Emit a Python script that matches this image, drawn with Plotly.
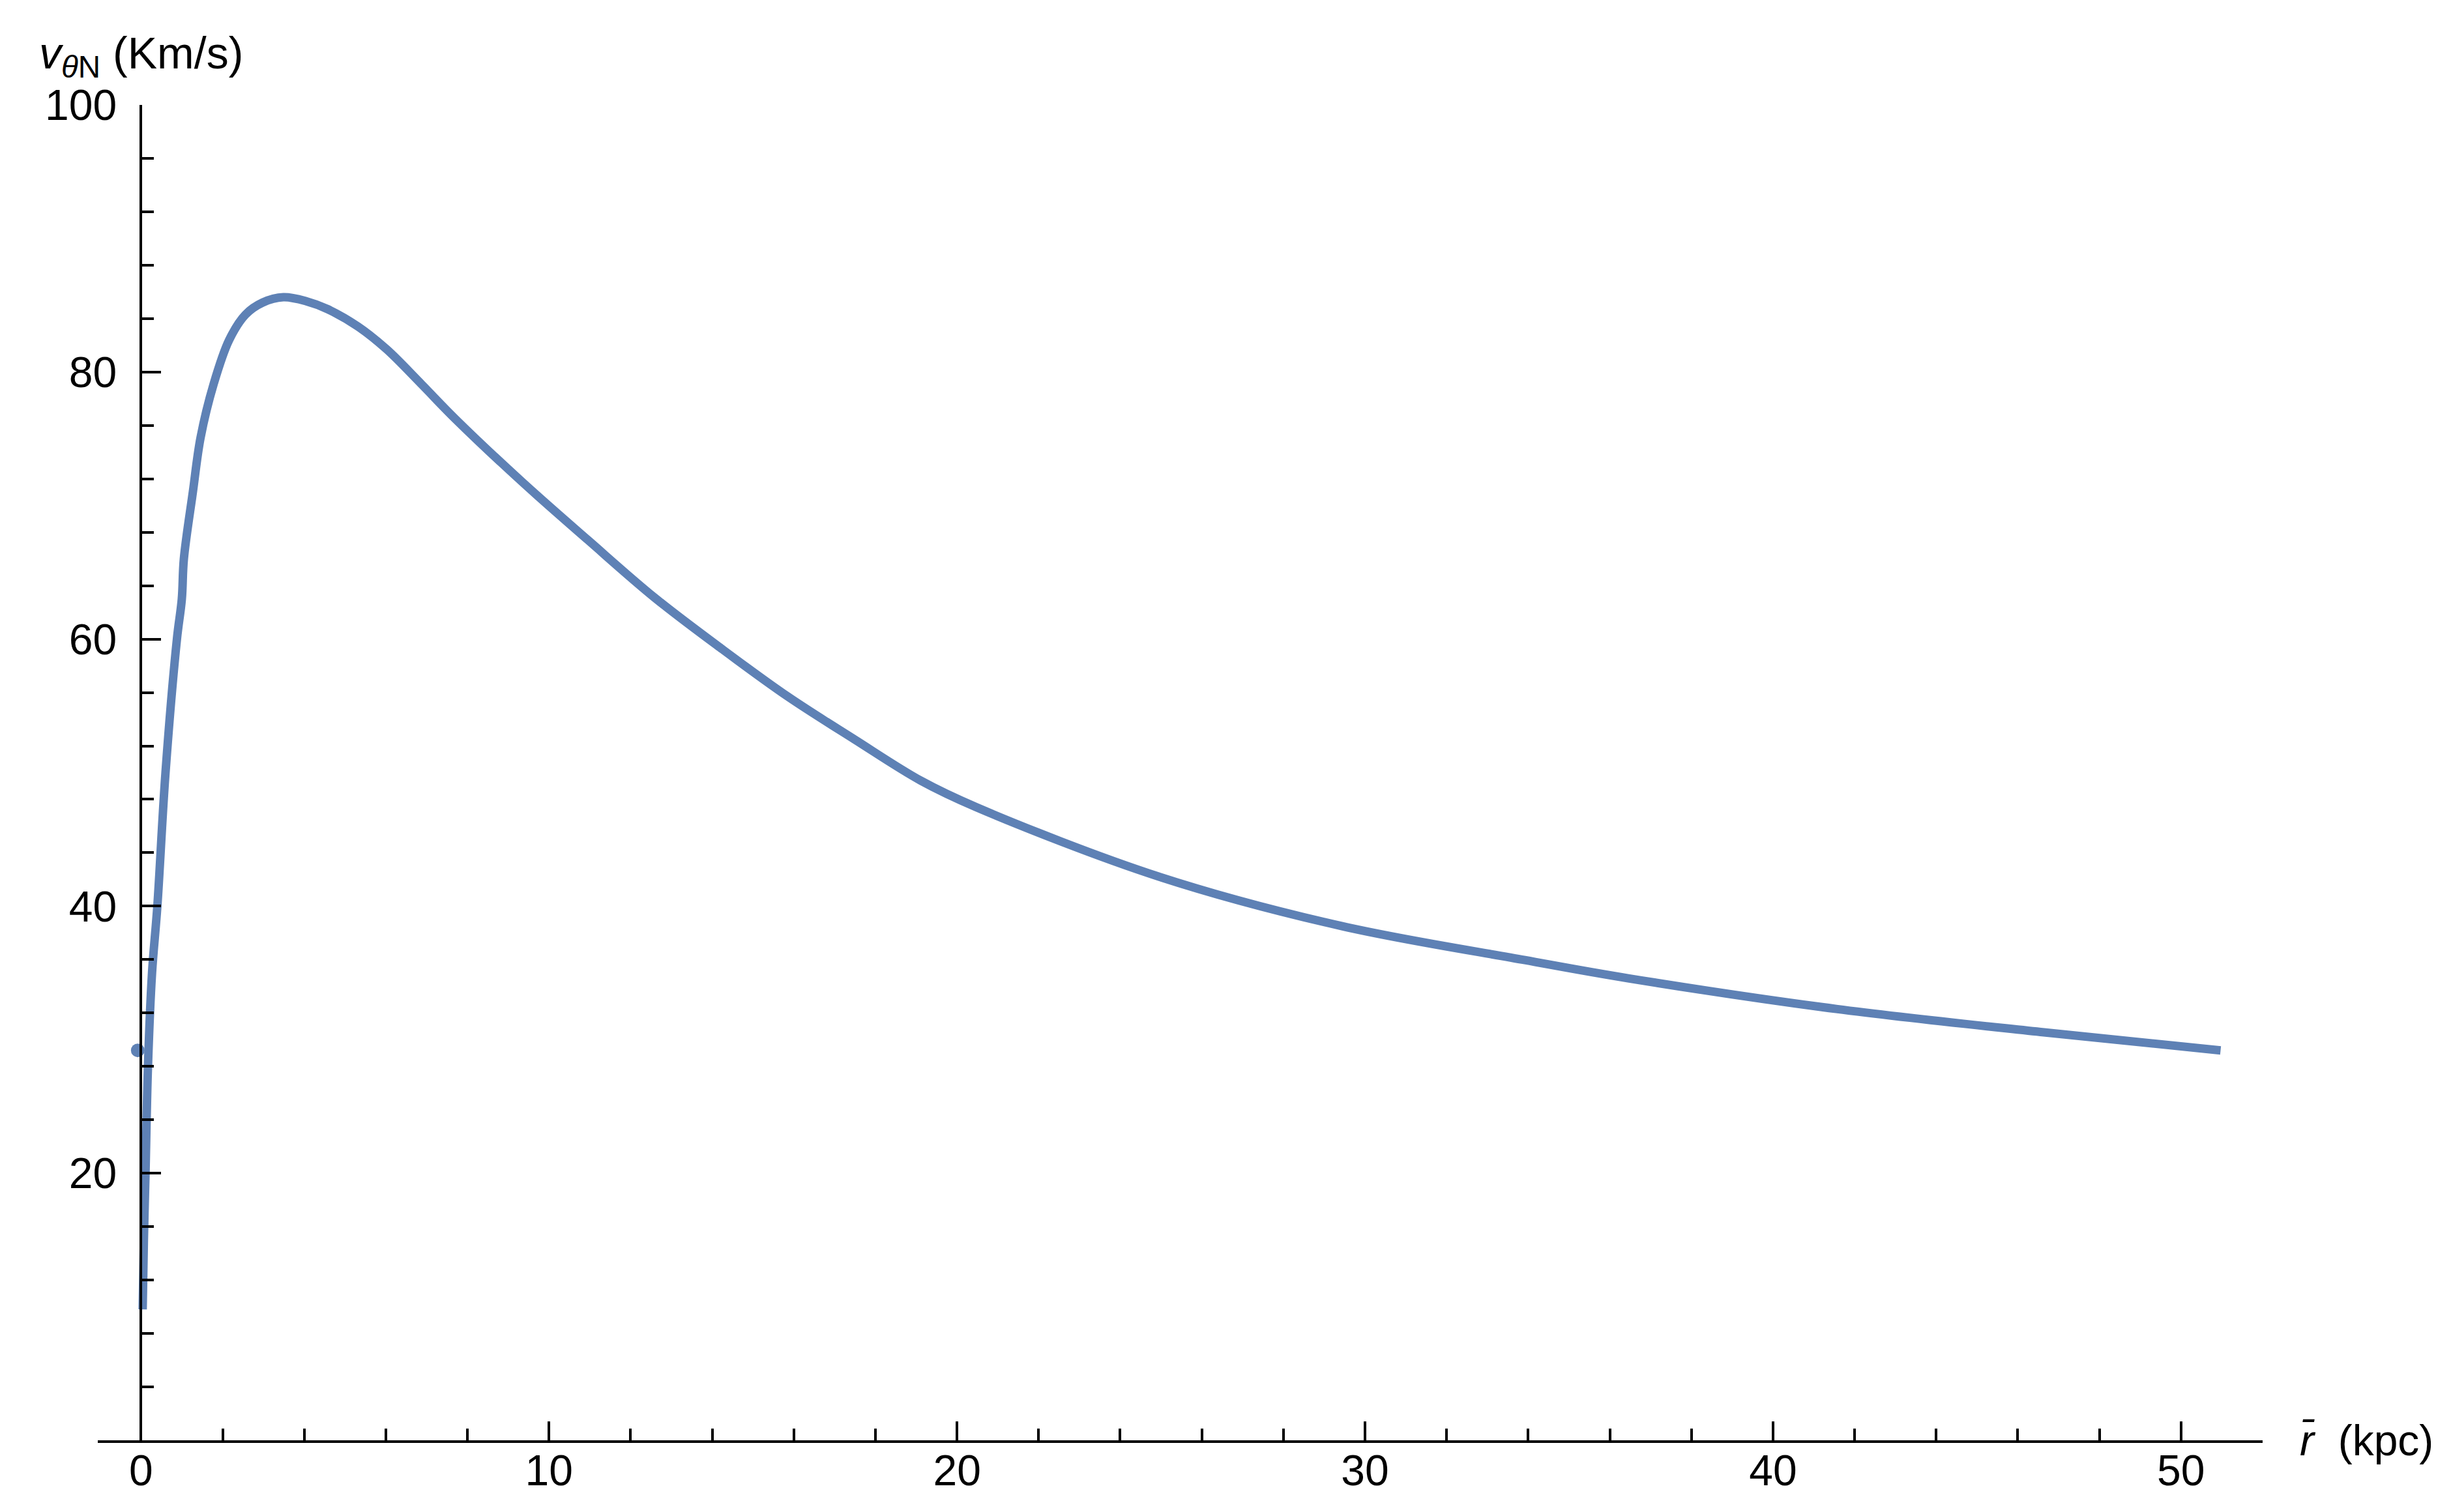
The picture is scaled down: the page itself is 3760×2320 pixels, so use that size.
import plotly.graph_objects as go

# rotation curve
r_kpc = [0.04, 0.07, 0.11, 0.17, 0.27, 0.40, 0.60, 0.88, 1.00, 1.05, 1.27, 1.46,
         1.78, 2.16, 2.56, 2.98, 3.49, 4.05, 4.58, 5.32, 6.02, 6.87, 7.70, 9.33,
         10.96, 12.59, 14.22, 15.85, 17.48, 19.11, 20.48, 24.96, 29.44, 33.92,
         36.45, 41.55, 46.64, 50.97]
v_theta = [9.8, 15.0, 20.0, 28.0, 35.0, 40.0, 50.0, 60.0, 63.0, 66.0, 71.0, 75.1,
           79.1, 82.4, 84.3, 85.2, 85.6, 85.3, 84.7, 83.4, 81.7, 79.1, 76.5, 71.8,
           67.4, 63.1, 59.3, 55.7, 52.5, 49.4, 47.4, 42.2, 38.5, 35.96,
           34.6, 32.3, 30.55, 29.2]

# stray point drawn next to the y axis
dot_r = [-0.08]
dot_v = [29.2]

x_ticks = [0, 10, 20, 30, 40, 50]
y_ticks = [20, 40, 60, 80, 100]
x_range = [-1.06, 52.0]
y_range = [0, 100]

blue = '#5E81B5'
font_family = 'Arial, Liberation Sans, sans-serif'
fs = 66

fig = go.Figure()
fig.add_trace(go.Scatter(x=r_kpc, y=v_theta, mode='lines',
                         line=dict(color=blue, width=13, shape='spline', smoothing=1.0),
                         showlegend=False, hoverinfo='skip'))
fig.add_trace(go.Scatter(x=dot_r, y=dot_v, mode='markers',
                         marker=dict(color=blue, size=21, line=dict(width=0)),
                         showlegend=False, hoverinfo='skip'))

# y axis sits at x = 0 inside the plotting range
ypos = (0 - x_range[0]) / (x_range[1] - x_range[0])

fig.update_layout(
    width=3760, height=2320,
    margin=dict(l=142, r=297, t=153, b=118),
    paper_bgcolor='white', plot_bgcolor='white',
    font=dict(family=font_family, size=fs, color='black'),
    xaxis=dict(range=x_range, tickvals=x_ticks, showgrid=False, zeroline=False,
               automargin=False,
               showline=True, linecolor='black', linewidth=4,
               ticks='inside', ticklen=29, tickwidth=4, tickcolor='black',
               ticklabelstandoff=-14,
               minor=dict(tick0=0, dtick=2, ticks='inside', ticklen=18,
                          tickwidth=4, tickcolor='black', showgrid=False)),
    yaxis=dict(range=y_range, tickvals=y_ticks, showgrid=False, zeroline=False,
               anchor='free', position=ypos, automargin=False,
               showline=True, linecolor='black', linewidth=4,
               ticks='inside', ticklen=29, tickwidth=4, tickcolor='black',
               ticklabelstandoff=22,
               minor=dict(tick0=0, dtick=4, ticks='inside', ticklen=18,
                          tickwidth=4, tickcolor='black', showgrid=False)),
    annotations=[
        dict(text='<i>v</i><sub><i>θ</i>N</sub> (Km/s)', xref='x', yref='y',
             x=0, y=100, xanchor='center', yanchor='bottom', yshift=30,
             showarrow=False, font=dict(size=68)),
        dict(text='<i>r\u0304</i>\u00a0\u00a0(kpc)', xref='x', yref='y',
             x=x_range[1], y=0, xanchor='left', yanchor='middle', xshift=55,
             showarrow=False, font=dict(size=fs)),
    ],
)

fig.write_html('out.html')
